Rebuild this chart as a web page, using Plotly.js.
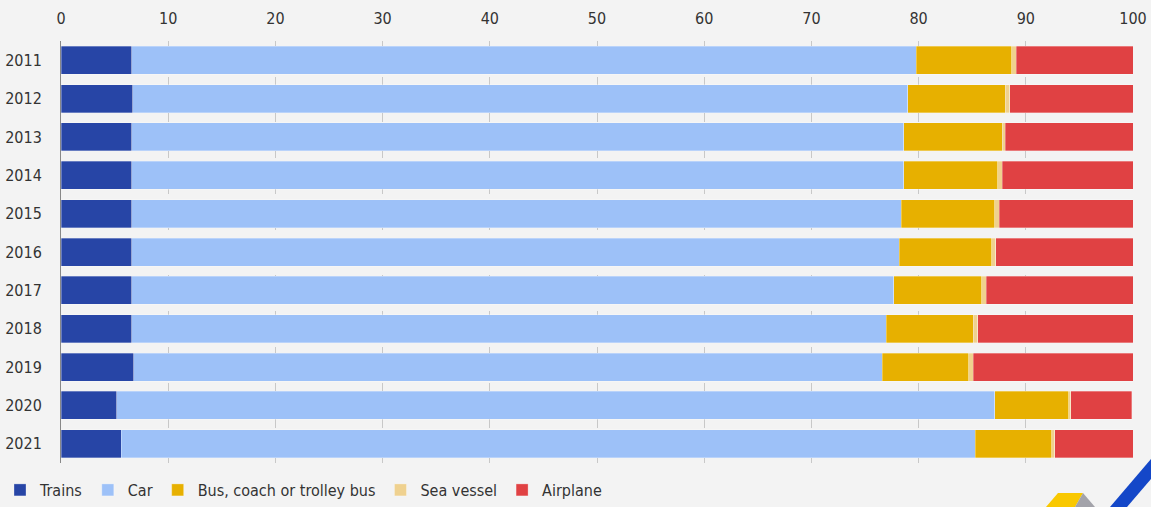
<!DOCTYPE html>
<html>
<head>
<meta charset="utf-8">
<script src="https://cdn.plot.ly/plotly-3.0.1.min.js"></script>
<style>
html,body{margin:0;padding:0;background:#f3f3f3;}
#chart{width:1151px;height:507px;}
#chart text{font-stretch:condensed !important;}
</style>
</head>
<body>
<div id="chart"></div>
<script>
const years = ["2011","2012","2013","2014","2015","2016","2017","2018","2019","2020","2021"];
const trains   = [6.6, 6.7, 6.6, 6.6, 6.6, 6.6, 6.6, 6.6, 6.8, 5.2, 5.6];
const car      = [73.2, 72.3, 72.0, 72.0, 71.8, 71.6, 71.1, 70.4, 69.8, 81.9, 79.7];
const bus      = [8.9, 9.1, 9.2, 8.8, 8.7, 8.6, 8.2, 8.1, 8.1, 6.9, 7.1];
const sea      = [0.4, 0.4, 0.3, 0.4, 0.4, 0.4, 0.4, 0.4, 0.4, 0.2, 0.3];
const airplane = [10.9, 11.5, 11.9, 12.2, 12.5, 12.8, 13.7, 14.6, 14.9, 5.7, 7.3];
const seriesNames = ["Trains","Car","Bus, coach or trolley bus","Sea vessel","Airplane"];
const seriesValues = [trains, car, bus, sea, airplane];
const colors = ["#2745a6","#9dc1f8","#e7b000","#efd18f","#e04143"];
const xTicks = [0,10,20,30,40,50,60,70,80,90,100];

const FONT = "'DejaVu Sans Condensed','Liberation Sans Narrow','DejaVu Sans',sans-serif";

const traces = seriesNames.map((n,i)=>({
  type:'bar', orientation:'h', name:n,
  y: years, x: seriesValues[i],
  marker:{color:colors[i], line:{color:'rgba(255,255,255,0.5)', width:0.6}},
  hoverinfo:'x+name'
}));

const layout = {
  width:1151, height:507,
  paper_bgcolor:'#f3f3f3', plot_bgcolor:'#f3f3f3',
  margin:{l:61, r:18, t:41, b:44, pad:0, autoexpand:false},
  barmode:'stack', bargap:0.27,
  font:{family:FONT, size:16, color:'#333'},
  showlegend:true,
  legend:{orientation:'h', xref:'container', yref:'container', x:-0.002, y:-0.016, yanchor:'bottom',
          font:{family:FONT, size:16, color:'#333'}, traceorder:'normal',
          itemwidth:30, tracegroupgap:0, bgcolor:'rgba(0,0,0,0)'},
  xaxis:{side:'top', range:[0,100], tickvals:xTicks, ticktext:xTicks.map(String),
         showgrid:true, gridcolor:'#c8c8c8', griddash:'dash', gridwidth:1,
         zeroline:false, showline:false, ticks:'', fixedrange:true, ticklabelstandoff:13,
         tickfont:{family:FONT, size:16, color:'#333'}},
  yaxis:{type:'category', autorange:'reversed', showline:true, linecolor:'#888', linewidth:1,
         ticks:'', ticklabelstandoff:15, showgrid:false, zeroline:false, dtick:1,
         tickfont:{family:FONT, size:16, color:'#333'}},
  shapes:[
    {type:'path', xref:'paper', yref:'paper', layer:'above',
     path:'M 1046 507 L 1058 493 L 1083 493 L 1075 507 Z', fillcolor:'#f9c800', line:{width:0}},
    {type:'path', xref:'paper', yref:'paper', layer:'above',
     path:'M 1075 507 L 1083 493 L 1095 507 Z', fillcolor:'#a3a3aa', line:{width:0}},
    {type:'path', xref:'paper', yref:'paper', layer:'above',
     path:'M 1110 507 L 1151 459 L 1151 479 L 1127 507 Z', fillcolor:'#1447c8', line:{width:0}}
  ]
};
const pw = 1151-61-18, ph = 507-41-44;
layout.shapes.forEach(s=>{
  s.path = s.path.replace(/(\d+(?:\.\d+)?) (\d+(?:\.\d+)?)/g,(m,a,b)=>{
    const xp = (parseFloat(a)-61)/pw;
    const yp = (507-44-parseFloat(b))/ph;
    return xp.toFixed(5)+','+yp.toFixed(5);
  });
});
Plotly.newPlot('chart', traces, layout, {displayModeBar:false, staticPlot:true});
</script>
</body>
</html>
